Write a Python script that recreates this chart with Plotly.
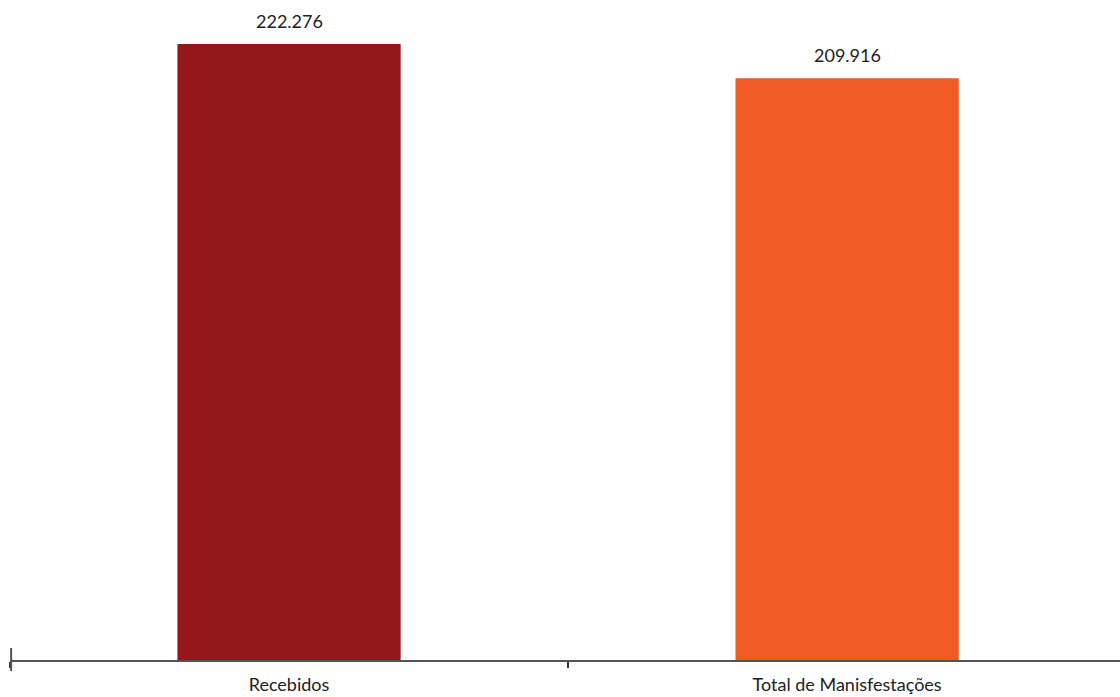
import plotly.graph_objects as go

# dados
categorias = ["Recebidos", "Total de Manisfestações"]
valores = [222276, 209916]
cores = ["#93171b", "#f05a24"]

fig = go.Figure(
    go.Bar(
        x=categorias,
        y=valores,
        marker=dict(color=cores, line=dict(width=0)),
        width=0.4,
        hoverinfo="x+y",
    )
)

# rótulos de valor acima das barras
for cat, val in zip(categorias, valores):
    fig.add_annotation(
        x=cat, y=val, text=f"{val:,}".replace(",", "."),
        showarrow=False, yanchor="bottom", yshift=10,
        font=dict(size=18, color="#222222"),
    )

# marca vertical no início do eixo
fig.add_shape(
    type="line", xref="paper", yref="paper",
    x0=0.001, x1=0.001, y0=-0.0172, y1=0.01875,
    line=dict(color="#555555", width=2),
)

fig.update_layout(
    width=1120, height=697,
    margin=dict(l=10, r=0, t=20, b=37),
    paper_bgcolor="white", plot_bgcolor="white",
    font=dict(family="Lato, sans-serif", size=18, color="#222222"),
    separators=",.",
    showlegend=False,
    bargap=0.6,
    xaxis=dict(
        range=[-0.5, 1.489],
        showline=True, linecolor="#555555", linewidth=2,
        ticks="outside", tickson="boundaries", ticklen=6,
        tickcolor="#333333", tickwidth=2,
        ticklabelstandoff=7,
        tickfont=dict(size=18, color="#222222"),
        showgrid=False, zeroline=False,
    ),
    yaxis=dict(
        range=[0, 230936],
        visible=False, showgrid=False, zeroline=False,
    ),
)

fig.write_html("out.html", config={"displayModeBar": False},
               post_script="document.body.style.margin='0';")
